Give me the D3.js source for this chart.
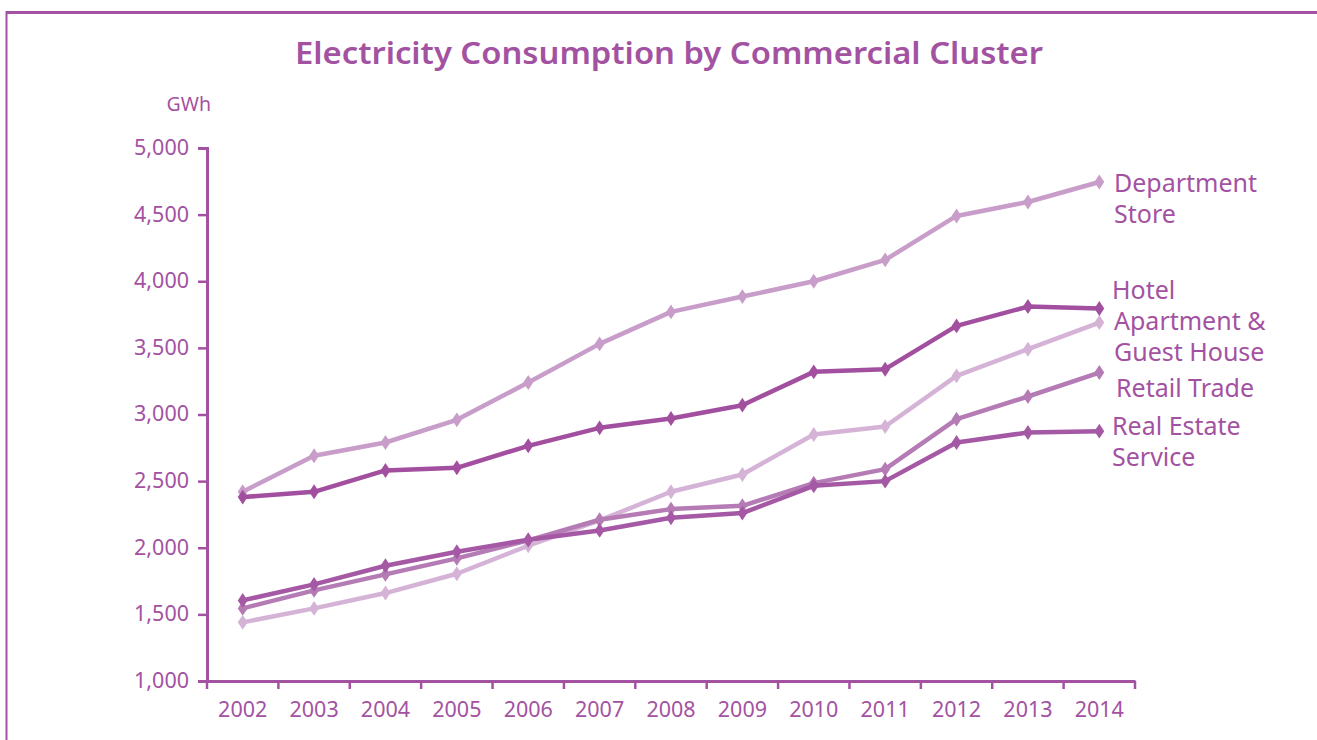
<!DOCTYPE html>
<html><head><meta charset="utf-8">
<script src="https://cdn.jsdelivr.net/npm/d3@7"></script>
<style>
html,body{margin:0;padding:0;background:#fff;}
svg{display:block;font-family:"Noto Sans","Open Sans",sans-serif;}
</style></head>
<body><svg id="c" width="1317" height="740"></svg>
<script>
const years = ["2002","2003","2004","2005","2006","2007","2008","2009","2010","2011","2012","2013","2014"];
const yTicks = [1000,1500,2000,2500,3000,3500,4000,4500,5000];
const departmentStore = [2420,2690,2790,2960,3240,3530,3770,3885,4000,4160,4490,4595,4745];
const hotel           = [2380,2420,2580,2600,2765,2900,2970,3070,3320,3340,3665,3810,3795];
const apartment       = [1440,1545,1660,1805,2015,2205,2420,2550,2850,2910,3290,3490,3690];
const retailTrade     = [1545,1680,1800,1920,2055,2210,2290,2315,2485,2590,2965,3135,3315];
const realEstate      = [1605,1725,1865,1970,2060,2130,2225,2260,2465,2500,2790,2865,2875];

const series = [
  {name:"Department Store", values:departmentStore, color:"#C89DC9"},
  {name:"Apartment & Guest House", values:apartment, color:"#D5B3D7"},
  {name:"Retail Trade", values:retailTrade, color:"#B57BB5"},
  {name:"Real Estate Service", values:realEstate, color:"#A559A5"},
  {name:"Hotel", values:hotel, color:"#A24F9F"}
];
const main = "#A352A2";

const svg = d3.select("#c");
// frame
svg.append("line").attr("x1",6).attr("x2",1317).attr("y1",12.5).attr("y2",12.5).attr("stroke",main).attr("stroke-width",3);
svg.append("line").attr("x1",6.5).attr("x2",6.5).attr("y1",11).attr("y2",740).attr("stroke",main).attr("stroke-width",2);

svg.append("text").attr("x",669).attr("y",64).attr("text-anchor","middle")
  .attr("fill",main).attr("font-size",31).attr("font-weight",600)
  .attr("textLength",748).attr("lengthAdjust","spacingAndGlyphs")
  .text("Electricity Consumption by Commercial Cluster");

const x = d3.scaleBand().domain(years).range([207,1135]);
const y = d3.scaleLinear().domain([1000,5000]).range([681,148]);

const gy = svg.append("g").attr("transform","translate(207,0)")
  .call(d3.axisLeft(y).tickValues(yTicks).tickFormat(d3.format(",")).tickSize(9).tickPadding(9));
const gx = svg.append("g").attr("transform","translate(0,681)")
  .call(d3.axisBottom(x).tickSize(0).tickPadding(25));
// band boundary ticks
gx.selectAll("line.bt").data(years.concat(["end"])).enter().append("line").attr("class","bt")
  .attr("x1",(d,i)=> i<years.length ? x(d) : x.range()[1])
  .attr("x2",(d,i)=> i<years.length ? x(d) : x.range()[1])
  .attr("y1",0).attr("y2",8).attr("stroke",main).attr("stroke-width",2.5);
[gy,gx].forEach(g=>{
  g.select(".domain").attr("stroke",main).attr("stroke-width",3);
  g.selectAll(".tick line").attr("stroke",main).attr("stroke-width",2.5);
  g.selectAll(".tick text").attr("fill",main).attr("font-size",21.5).attr("font-family","'Noto Sans',sans-serif");
});
gy.selectAll(".tick text").attr("dy","0.3em");
gx.selectAll(".tick text").attr("dy","0.5em");

svg.append("text").attr("x",211).attr("y",111).attr("text-anchor","end").attr("fill",main)
  .attr("font-size",19.5).text("GWh");

const line = d3.line().x((d,i)=>x(years[i])+x.bandwidth()/2).y(d=>y(d));
const diamond = d3.symbol().type(d3.symbolDiamond).size(64);
series.forEach(s=>{
  svg.append("path").attr("d",line(s.values)).attr("fill","none").attr("stroke",s.color)
    .attr("stroke-width",4.5).attr("stroke-linejoin","round");
  svg.selectAll(null).data(s.values).enter().append("path")
    .attr("d",diamond)
    .attr("transform",(d,i)=>`translate(${x(years[i])+x.bandwidth()/2},${y(d)}) scale(1.15,1)`)
    .attr("fill",s.color);
});

const labels = [
  {lines:["Department","Store"], x:1114, y:192},
  {lines:["Hotel"], x:1112, y:299},
  {lines:["Apartment &","Guest House"], x:1114, y:330},
  {lines:["Retail Trade"], x:1116, y:397},
  {lines:["Real Estate","Service"], x:1112, y:435}
];
labels.forEach(l=>{
  const t = svg.append("text").attr("fill",main).attr("font-size",25);
  l.lines.forEach((ln,i)=>t.append("tspan").attr("x",l.x).attr("y",l.y+i*31).text(ln));
});
</script></body></html>
